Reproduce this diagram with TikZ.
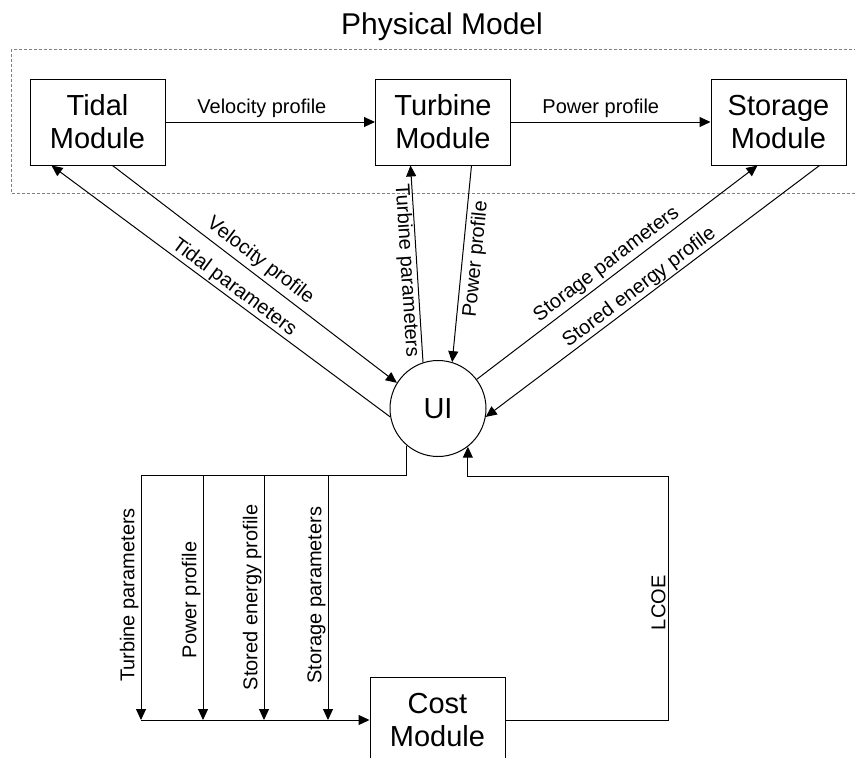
\documentclass[tikz,border=0pt]{standalone}
\usepackage{fontspec}
\setmainfont{Liberation Sans}
\usetikzlibrary{arrows.meta}
\begin{document}
\begin{tikzpicture}[x=1pt,y=-1pt,
  line width=1pt,
  flow/.style={draw=black, -{Triangle[length=11pt,width=10pt]}},
  wolf/.style={draw=black, {Triangle[length=11pt,width=10pt]}-},
  module/.style={draw, line width=1pt, minimum width=135pt, minimum height=86pt,
    inner sep=0pt, align=center, font=\fontsize{29}{33}\selectfont},
  lbl/.style={font=\fontsize{20}{24}\selectfont, inner sep=1pt},
  vlbl/.style={lbl, rotate=90, anchor=south, inner sep=2pt},
]
\useasboundingbox (0,0) rectangle (855,758);

% physical model frame and title
\draw[gray, dash pattern=on 3pt off 2pt, line width=0.8pt] (11,49) rectangle (900,193);
\node[font=\fontsize{30}{34}\selectfont] (title) at (442,27) {Physical Model};

% modules
\node[module] (tidal)   at (97.5,122)  {Tidal\\Module};
\node[module] (turbine) at (443,122)   {Turbine\\Module};
\node[module] (storage) at (778.5,122) {Storage\\Module};
\node[module] (cost)    at (437.5,720) {Cost\\Module};
\node[draw, circle, line width=1pt, minimum size=96pt, inner sep=0pt,
  font=\fontsize{29}{33}\selectfont] (ui) at (438,408.5) {UI};

% chain inside the physical model
\draw[flow] (tidal.east) -- node[lbl, above=3pt, pos=0.46] (lv) {Velocity profile} (turbine.west);
\draw[flow] (turbine.east) -- node[lbl, above=3pt, pos=0.45] (lp) {Power profile} (storage.west);

% exchanges with the UI
\draw[wolf] ([xshift=22pt]tidal.south west) -- node[lbl, sloped, above=0pt, pos=0.52] {Tidal parameters} (ui.190);
\draw[flow] ([xshift=83pt]tidal.south west) -- node[lbl, sloped, above=3pt, pos=0.49] {Velocity profile} (ui.148);
\draw[wolf] ([xshift=35.5pt]turbine.south west) -- node[lbl, sloped, below=0pt, pos=0.53] {Turbine parameters} (ui.108);
\draw[flow] ([xshift=96.5pt]turbine.south west) -- node[lbl, sloped, below=3pt, pos=0.47] {Power profile} (ui.73);
\draw[flow] (ui.37) -- node[lbl, sloped, above=2pt, pos=0.49] {Storage parameters} ([xshift=47pt]storage.south west);
\draw[wolf] (ui.350) -- node[lbl, sloped, above=0pt, pos=0.48] {Stored energy profile} ([xshift=109pt]storage.south west);

% bus from the UI to the cost module
\coordinate (j1) at (141,475);
\coordinate (j2) at (203,475);
\coordinate (j3) at (264,475);
\coordinate (j4) at (328,475);
\coordinate (d1) at (141,720);
\coordinate (d2) at (203,720);
\coordinate (d3) at (264,720);
\coordinate (d4) at (328,720);
\draw (ui.230) -- (ui.230 |- j1) -- (j1);
\draw[flow] (j1) -- node[vlbl, pos=0.49] {Turbine parameters} (d1);
\draw[flow] (j2) -- node[vlbl, pos=0.51] {Power profile} (d2);
\draw[flow] (j3) -- node[vlbl, pos=0.5] {Stored energy profile} (d3);
\draw[flow] (j4) -- node[vlbl, pos=0.49] {Storage parameters} (d4);
\draw[flow] (d1) -- (cost.west);

% LCOE back to the UI
\coordinate (lc) at (668,476);
\draw[flow] (cost.east) -| node[vlbl, pos=0.74] {LCOE} (lc) -- (ui.308 |- lc) -- (ui.308);
\end{tikzpicture}
\end{document}
